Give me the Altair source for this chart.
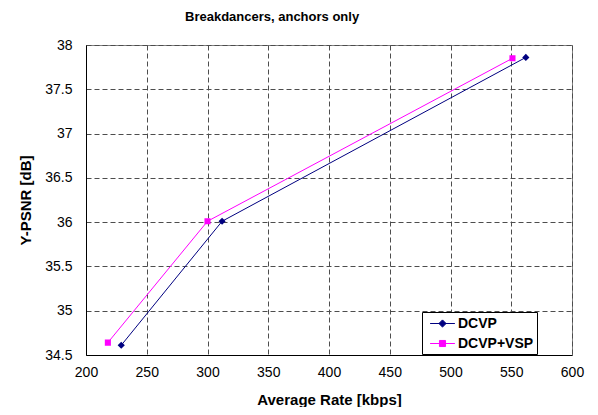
import altair as alt
import pandas as pd

series_names = ["DCVP", "DCVP+VSP"]
dcvp_rate = [229, 312, 562]
dcvp_psnr = [34.61, 36.01, 37.86]
vsp_rate = [218, 300, 551]
vsp_psnr = [34.64, 36.01, 37.85]
colors = ["#000080", "#FF00FF"]

x_ticks = [200, 250, 300, 350, 400, 450, 500, 550, 600]
y_ticks = [34.5, 35, 35.5, 36, 36.5, 37, 37.5, 38]

df = pd.concat([
    pd.DataFrame({"series": series_names[0], "rate": dcvp_rate, "psnr": dcvp_psnr, "order": range(3)}),
    pd.DataFrame({"series": series_names[1], "rate": vsp_rate, "psnr": vsp_psnr, "order": range(3)}),
])

FONT = "Liberation Sans"

# custom legend/marker paths: horizontal line + marker
diamond_path = "M-1.55,0H1.55M0,-0.45L0.45,0L0,0.45L-0.45,0Z"
square_path = "M-1.55,0H1.55M-0.38,-0.38H0.38V0.38H-0.38Z"
MSIZE = 256

x_enc = alt.X("rate:Q", scale=alt.Scale(domain=[200, 600], nice=False),
              axis=alt.Axis(values=x_ticks, title="Average Rate [kbps]", format="d"))
y_enc = alt.Y("psnr:Q", scale=alt.Scale(domain=[34.5, 38], nice=False, zero=False),
              axis=alt.Axis(values=y_ticks, title="Y-PSNR [dB]", format="~g"))


def cscale():
    return alt.Scale(domain=series_names, range=colors)


def sscale():
    return alt.Scale(domain=series_names, range=[diamond_path, square_path])


lines = alt.Chart(df).mark_line(strokeWidth=1).encode(
    x=x_enc, y=y_enc,
    color=alt.Color("series:N", scale=cscale(), legend=None),
    order="order:Q",
)

points = alt.Chart(df).mark_point(filled=True, opacity=1, size=MSIZE, strokeWidth=0).encode(
    x=x_enc, y=y_enc,
    fill=alt.Fill("series:N", scale=cscale(), legend=None),
    shape=alt.Shape("series:N", scale=sscale(), legend=None),
)

leg = alt.Legend(title=None, orient="none", legendX=336, legendY=267,
                 strokeColor="black", fillColor="white",
                 symbolOffset=9, labelOffset=7,
                 labelFont=FONT, labelFontSize=14, labelFontWeight="bold",
                 labelColor="black", symbolSize=MSIZE, symbolStrokeWidth=1, symbolOpacity=1)

legend_layer = alt.Chart(df).transform_filter("false").mark_point(
    filled=True, opacity=1, size=MSIZE, strokeWidth=1).encode(
    x=x_enc, y=y_enc,
    fill=alt.Fill("series:N", scale=cscale(), legend=leg),
    stroke=alt.Stroke("series:N", scale=cscale(), legend=leg),
    shape=alt.Shape("series:N", scale=sscale(), legend=leg),
)

chart = alt.layer(lines, points, legend_layer).resolve_scale(
    color="independent", fill="independent", shape="independent", stroke="independent"
).properties(
    width=486, height=310,
    autosize=alt.AutoSizeParams(type="none"),
    padding={"left": 78, "top": 37, "right": 18, "bottom": 52},
    title=alt.TitleParams("Breakdancers, anchors only", anchor="start", dx=167, dy=-10,
                          font=FONT, fontSize=13, fontWeight="bold", color="black"),
).configure_view(stroke="#808080", strokeWidth=1).configure_axis(
    labelFont=FONT, labelFontSize=14, labelColor="black",
    titleFont=FONT, titleFontSize=15, titleFontWeight="bold", titleColor="black",
    grid=True, gridColor="#4d4d4d", gridDash=[5, 3], gridWidth=1,
    domainColor="black", domainWidth=1, ticks=False, labelFlush=False,
).configure_axisX(labelPadding=10, titleY=49, titleBaseline="alphabetic",
                  titlePadding=0).configure_axisY(labelPadding=14, titleX=-61, titleBaseline="middle",
                                                 titleY=155).configure_legend(padding=3, rowPadding=4)

chart.save("out.html", embed_options={"renderer": "svg", "actions": False})
